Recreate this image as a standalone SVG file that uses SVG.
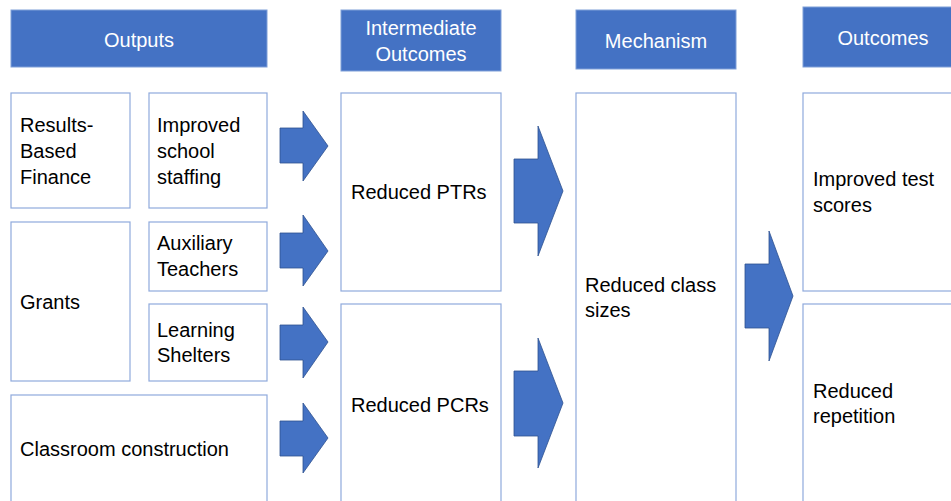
<svg xmlns="http://www.w3.org/2000/svg" width="951" height="501" viewBox="0 0 951 501">
<style>
.hdr{fill:#4472C4;stroke:#7F9FD8;stroke-width:1}
.box{fill:#FFFFFF;stroke:#8FAADC;stroke-width:1.2}
.ht{fill:#FFFFFF;font-family:"Liberation Sans",Arial,sans-serif;font-size:20px;text-anchor:middle}
.bt{fill:#000000;font-family:"Liberation Sans",Arial,sans-serif;font-size:20px}
.arr{fill:#4472C4;stroke:#2F528F;stroke-width:0.8}
</style>
<rect width="951" height="501" fill="#FFFFFF"/>
<g id="hdr-outputs"><rect class="hdr" x="11" y="10" width="256" height="57"/><text class="ht" x="139" y="47">Outputs</text></g>
<g id="hdr-intermediate"><rect class="hdr" x="341" y="10" width="160" height="61"/><text class="ht" x="421" y="35">Intermediate</text><text class="ht" x="421" y="61">Outcomes</text></g>
<g id="hdr-mechanism"><rect class="hdr" x="576" y="10" width="160" height="59"/><text class="ht" x="656" y="48">Mechanism</text></g>
<g id="hdr-outcomes"><rect class="hdr" x="803" y="7" width="160" height="60"/><text class="ht" x="883" y="45">Outcomes</text></g>

<g id="n-rbf"><rect class="box" x="11" y="93" width="119" height="115"/><text class="bt" x="20" y="132">Results-</text><text class="bt" x="20" y="158">Based</text><text class="bt" x="20" y="184">Finance</text></g>
<g id="n-staffing"><rect class="box" x="149" y="93" width="118" height="115"/><text class="bt" x="157" y="132">Improved</text><text class="bt" x="157" y="158">school</text><text class="bt" x="157" y="184">staffing</text></g>
<g id="n-grants"><rect class="box" x="11" y="222" width="119" height="159"/><text class="bt" x="20" y="309">Grants</text></g>
<g id="n-aux"><rect class="box" x="149" y="222" width="118" height="69"/><text class="bt" x="157" y="250">Auxiliary</text><text class="bt" x="157" y="276">Teachers</text></g>
<g id="n-shelters"><rect class="box" x="149" y="304" width="118" height="77"/><text class="bt" x="157" y="337">Learning</text><text class="bt" x="157" y="362">Shelters</text></g>
<g id="n-classroom"><rect class="box" x="11" y="395" width="256" height="120"/><text class="bt" x="20" y="456">Classroom construction</text></g>
<g id="n-ptr"><rect class="box" x="341" y="93" width="160" height="198"/><text class="bt" x="351" y="199">Reduced PTRs</text></g>
<g id="n-pcr"><rect class="box" x="341" y="304" width="160" height="211"/><text class="bt" x="351" y="412">Reduced PCRs</text></g>
<g id="n-class"><rect class="box" x="576" y="93" width="160" height="422"/><text class="bt" x="585" y="292">Reduced class</text><text class="bt" x="585" y="317">sizes</text></g>
<g id="n-test"><rect class="box" x="803" y="93" width="160" height="198"/><text class="bt" x="813" y="186">Improved test</text><text class="bt" x="813" y="212">scores</text></g>
<g id="n-rep"><rect class="box" x="803" y="304" width="160" height="211"/><text class="bt" x="813" y="398">Reduced</text><text class="bt" x="813" y="423">repetition</text></g>

<g id="connectors">
<polygon class="arr" points="280,128 303,128 303,111 328,146 303,181 303,163 280,163"/>
<polygon class="arr" points="280,233 303,233 303,215 328,251 303,286 303,268 280,268"/>
<polygon class="arr" points="280,325 303,325 303,307 328,342 303,378 303,360 280,360"/>
<polygon class="arr" points="280,421 303,421 303,403 328,438 303,473 303,456 280,456"/>
<polygon class="arr" points="514,159 538,159 538,126 563,191 538,256 538,223 514,223"/>
<polygon class="arr" points="514,371 538,371 538,338 563,403 538,468 538,436 514,436"/>
<polygon class="arr" points="745,264 769,264 769,231 793,296 769,361 769,328 745,328"/>
</g>
</svg>
